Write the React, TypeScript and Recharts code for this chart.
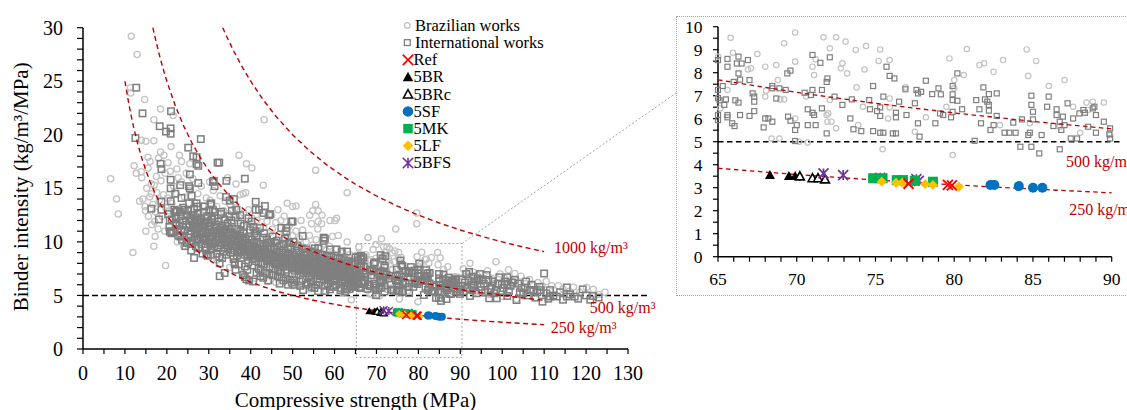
import React from 'react';
import { ScatterChart, Scatter, XAxis, YAxis, ReferenceLine, ReferenceArea, ReferenceDot, Legend } from 'recharts';

type Pt = [number, number];

const SERIF = '"Liberation Serif", "Times New Roman", Times, serif';

// ---------------- data ----------------
const brazilianWorks: Pt[] = [
  [6.6,15.9],[8.0,14.0],[8.4,12.6],[11.5,29.2],[12.9,27.5],[11.3,24.4],[11.4,23.9],[14.7,23.3],[18.5,22.4],[21.5,21.8],[16.9,21.4],[15.0,19.4],[16.9,19.45],[13.9,19.5],[18.5,18.4],[19.3,18.1],[20.3,17.4],[23.5,17.5],[12.2,17.1],[12.7,16.4],[13.9,16.55],[15.5,16.9],[15.5,17.9],[17.5,16.1],[16.3,15.4],[16.3,14.5],[22.4,16.8],[11.9,9.0],[19.7,7.8],[16.9,9.6],[14.9,12.9],[17.1,11.9],
  [13.5,13.8],[14.0,16.0],[14.3,14.0],[14.8,13.3],[15.0,11.0],[15.2,15.0],[15.6,12.4],[15.9,14.2],[16.0,17.5],[16.4,11.6],[16.7,13.5],[17.0,15.3],[17.2,10.5],[17.3,12.8],[17.6,14.6],[17.9,11.2],[18.0,17.8],[18.2,13.9],[18.6,15.7],[18.9,12.4],[19.2,14.4],[19.5,11.0],[19.6,16.4],[19.8,13.2],
  [20.2,14.1],[20.5,12.9],[20.8,16.6],[21.2,13.6],[21.6,15.2],[22.0,12.3],[22.3,14.5],[22.7,16.0],[23.1,13.1],[23.5,15.6],[23.8,11.9],[24.2,14.2],[24.6,16.4],[25.0,13.0],[25.4,14.8],[25.8,12.1],[26.2,15.9],[26.6,13.7],[27.0,11.8],[27.4,14.5],[27.8,12.7],[28.2,15.2],[28.6,13.4],[29.0,11.6],[29.4,14.1],[29.8,12.5],[22.5,10.0],[24.0,9.6],[26.0,10.3],[28.0,9.7],[21.0,18.9],[23.0,18.1],[25.5,17.3],
  [30.3,13.9],[30.7,12.2],[31.1,14.8],[31.5,11.4],[31.9,13.3],[32.3,12.0],[32.7,14.3],[33.1,11.1],[33.5,12.9],[33.9,13.8],[34.3,11.8],[34.7,12.6],[35.1,13.5],[35.5,11.0],[35.9,12.3],[36.3,13.2],[36.7,10.7],[37.1,12.0],[37.5,14.4],[37.9,11.5],[38.3,12.7],[38.7,10.4],[39.1,11.9],[39.5,13.0],[39.9,10.9],[40.3,12.2],[40.7,11.3],[41.1,10.1],[41.5,12.0],[41.9,11.0],[42.3,9.9],[42.7,12.4],[43.1,11.4],[43.5,10.4],[43.9,11.9],[44.3,9.6],[44.7,10.9],[32.0,8.3],[35.0,7.6],[38.0,7.0],[41.0,6.6],[44.0,6.3],[36.5,15.4],[38.8,14.6],[34.5,16.0],
  [45.2,11.2],[45.6,10.0],[46.0,11.8],[46.4,9.5],[46.8,10.7],[47.2,12.0],[47.6,9.9],[48.0,10.9],[48.4,9.2],[48.8,10.4],[49.2,11.5],[49.6,9.6],[50.0,10.6],[50.4,8.9],[50.8,11.0],[51.2,9.8],[51.6,10.3],[52.0,8.7],[52.4,11.1],[52.8,9.4],[53.2,10.0],[53.6,8.6],[54.0,10.6],[54.4,9.1],[54.8,9.7],[55.2,8.4],[55.6,10.2],[56.0,8.9],[56.4,9.5],[56.8,8.2],[57.2,9.8],[57.6,8.6],[58.0,9.2],[58.4,8.0],[58.8,9.6],[59.2,8.4],[59.6,8.9],[60.0,7.9],[60.4,9.3],[60.8,8.2],[61.2,8.7],[61.6,7.7],[62.0,9.0],[62.4,8.0],[62.8,8.5],[63.2,7.6],[63.6,8.8],[64.0,7.9],[64.4,8.3],[46.0,6.2],[50.0,5.9],[54.0,5.6],[58.0,5.4],[62.0,5.2],[48.0,12.4],[52.0,12.0],[56.0,11.2],[59.5,10.5],[63.0,10.0],[60.5,12.2],[57.0,12.5],[54.8,12.9],
  [30.2,15.6],[37.2,18.1],[39.0,17.3],[40.3,16.9],[43.2,21.4],[43.0,15.3],[38.2,14.5],[46.5,13.0],[45.0,12.5],[48.7,13.6],[50.0,13.3],[50.8,13.35],[54.1,12.5],[54.5,11.7],[55.5,16.7],[55.5,13.5],[56.1,12.9],[56.1,11.9],[56.9,11.7],[58.9,12.0],[60.1,12.0],[60.9,10.6],[63.0,14.6],[64.0,4.6],[68.0,10.4],[71.2,10.3],[74.6,11.2],[79.6,12.7],[79.6,11.7],
  [65.8,9.52],[65.95,8.87],[65.0,8.7],[67.5,8.81],[68.0,8.26],[68.7,8.33],[69.2,9.28],[69.9,9.75],[69.9,8.48],[71.7,9.54],[72.5,9.54],[73.1,9.35],[72.1,9.06],[72.9,8.41],[72.8,8.19],[73.2,7.97],[73.75,8.99],[74.4,9.16],[74.3,8.14],[75.3,9.01],[75.2,8.51],[75.9,8.55],[73.8,7.36],[71.1,7.9],[71.0,8.26],[71.2,8.58],[66.9,8.14],[67.1,8.19],[65.15,6.45],[65.6,7.25],[68.0,6.96],[68.05,7.22],[68.8,7.68],[68.95,6.84],[69.2,6.84],[68.4,5.14],[68.9,5.14],[69.9,6.01],[70.15,5.0],[70.7,4.96],[70.6,6.96],[71.9,6.16],[71.95,5.87],[72.2,5.87],[72.5,5.58],[72.1,6.81],[72.0,6.23],[73.9,5.72],[74.2,6.52],[75.45,4.67],[75.8,6.01],[75.9,6.49],[75.9,6.88],[76.9,7.36],[77.5,5.43],[78.2,6.06],[79.7,8.62],[80.0,7.68],[80.0,7.32],[79.5,6.52],[80.6,7.9],[80.8,9.03],[79.9,4.42],[81.6,8.33],[81.9,8.41],[82.5,8.04],[83.1,8.55],[82.9,5.72],[84.6,9.01],[84.7,7.86],[85.2,8.51],[84.8,5.8],[86.0,7.42],[87.0,7.68],[87.55,6.52],[88.4,6.7],[88.8,6.74],[89.5,6.7],[88.0,5.39],[86.7,5.65],[88.5,6.38],[89.9,5.29],
  [90.7,7.5],[91.5,6.8],[92.3,8.0],[93.0,7.2],[94.0,6.9],[95.9,5.9],[96.5,7.3],[97.5,6.6],[98.5,8.15],[99.5,7.0],[100.5,6.6],[101.5,7.4],[102.5,6.3],[103.0,7.05],[103.4,4.64],[104.5,6.8],[105.5,6.1],[106.5,6.5],[107.5,5.9],[108.5,6.2],[109.5,5.9],[110.5,6.3],[111.8,5.9],[113.4,5.9],[114.5,5.6],[116.0,5.4],[117.0,5.8],[118.5,5.3],[120.1,5.75],[121.7,5.57],[123.0,5.1],[124.5,5.3],[93.5,5.3],[97.0,5.1],[100.0,4.9],[105.0,5.2],
];

const internationalWorks: Pt[] = [
  [12.7,24.4],[14.2,22.0],[21.0,22.2],[18.3,20.8],[20.9,20.6],[19.8,20.3],[20.9,20.1],[12.5,19.7],[28.1,19.6],[25.1,18.8],[26.3,18.0],[27.1,17.9],[27.5,17.1],[18.5,17.3],[18.7,16.8],[32.1,17.4],[32.5,17.4],[38.6,15.9],[34.2,15.7],[31.2,15.7],[20.9,15.8],[20.9,15.0],[27.5,15.5],[23.2,15.3],[25.3,15.2],[25.5,16.3],[16.3,13.1],[18.1,12.1],[18.7,13.75],[18.7,13.0],[25.5,15.0],[27.1,17.25],
  [20.7,12.0],[22.3,11.7],[23.2,10.5],[20.7,10.95],[24.7,9.9],[26.5,8.5],[22.1,12.8],[24.3,13.0],[25.9,14.3],[27.1,13.6],[29.0,13.3],[31.0,15.6],[31.4,15.2],[34.1,14.2],[35.0,13.85],[36.0,14.0],[36.6,13.0],[30.6,13.6],[32.6,8.0],[32.6,6.8],[33.8,7.1],[36.4,7.4],[38.6,6.7],[39.6,6.4],[40.6,6.3],[36.2,7.9],[29.4,9.2],[30.5,8.8],[29.1,10.3],[21.1,10.8],[29.8,8.7],[30.4,9.6],[41.4,7.1],[39.0,6.5],[43.0,6.65],[45.3,6.9],[46.9,6.1],[48.9,6.0],[50.5,6.0],[54.5,5.8],[56.1,5.4],[57.7,5.4],[58.9,5.57],[62.9,5.57],[62.5,5.35],[64.8,5.8],[52.5,5.5],
  [41.2,13.75],[42.0,13.0],[43.1,12.7],[44.4,12.5],[47.3,11.3],[49.7,11.9],[52.4,10.55],[57.4,10.4],[57.4,10.1],[56.1,9.4],[58.9,9.3],[60.5,9.3],[63.0,9.1],[43.4,13.35],[44.6,12.6],[41.2,13.0],[50.0,11.9],[55.3,9.4],[57.7,10.3],[61.7,9.1],[48.5,11.3],[48.5,11.0],[31.0,13.0],[33.0,12.8],[35.5,12.9],[37.5,12.5],[39.5,12.2],[40.2,11.9],[38.2,6.9],[42.3,6.8],[44.2,6.4],[47.8,6.4],[49.8,6.2],[51.8,5.9],[53.3,6.0],[55.2,5.7],[59.8,5.9],[61.4,5.5],[63.8,5.9],
  [20.3,12.6],[20.6,11.4],[20.9,13.8],[21.2,12.1],[21.5,10.9],[21.8,13.0],[22.1,11.8],[22.4,12.9],[22.7,10.6],[23.0,11.5],[23.3,12.4],[23.6,10.2],[23.9,13.2],[24.2,11.1],[24.5,12.0],[24.8,10.0],[24.4,9.6],[23.5,14.1],[22.0,14.5],[21.0,11.0],
  [25.1,12.9],[25.4,11.6],[25.2,10.4],[25.7,9.8],[25.6,12.2],[25.9,11.0],[25.3,13.6],[25.8,9.2],
  [26.2,12.5],[26.4,11.3],[26.1,10.1],[26.7,10.8],[26.6,12.0],[26.9,9.6],[26.5,13.1],[26.8,11.7],
  [27.1,11.2],[27.4,12.6],[27.3,10.3],[27.6,9.4],[27.8,11.8],[27.9,10.7],[27.2,13.3],
  [28.1,12.1],[28.4,10.9],[28.3,9.8],[28.6,11.5],[28.8,12.8],[28.9,10.2],[28.5,8.9],[28.7,11.0],
  [29.1,11.7],[29.4,10.5],[29.2,9.5],[29.6,12.4],[29.8,10.9],[29.9,11.4],[29.5,8.8],
  [30.1,12.9],[30.3,11.2],[30.2,10.0],[30.5,9.3],[30.7,11.8],[30.9,10.6],[30.6,12.4],[30.4,13.5],[30.8,9.8],
  [31.1,11.0],[31.4,12.2],[31.3,9.6],[31.6,10.5],[31.8,11.6],[31.9,8.9],[31.5,12.8],[31.7,10.1],
  [32.1,10.8],[32.4,11.9],[32.2,9.4],[32.6,10.2],[32.8,11.3],[32.9,12.6],[32.5,8.6],[32.7,9.9],
  [33.1,10.4],[33.3,11.5],[33.5,9.1],[33.7,12.1],[33.9,10.0],[33.6,10.8],[33.2,8.5],[33.8,11.1],
  [34.1,9.7],[34.3,10.9],[34.5,11.7],[34.2,8.8],[34.7,10.3],[34.9,12.4],[34.6,9.3],[34.8,11.2],
  [35.1,10.1],[35.3,9.0],[35.5,11.4],[35.7,10.6],[35.9,8.4],[35.4,12.0],[35.8,9.6],[35.2,10.9],
  [36.1,9.4],[36.3,10.7],[36.5,11.2],[36.7,8.7],[36.9,10.0],[36.4,12.3],[36.8,9.1],[36.2,8.1],
  [37.1,10.3],[37.3,9.2],[37.5,11.0],[37.7,8.5],[37.9,9.8],[37.4,10.6],[37.6,11.7],[37.2,7.9],
  [38.1,9.5],[38.3,10.8],[38.5,8.8],[38.7,10.1],[38.9,9.1],[38.4,11.5],[38.6,7.7],[38.2,10.4],
  [39.1,9.9],[39.3,8.6],[39.5,10.5],[39.7,9.3],[39.9,11.1],[39.4,8.1],[39.6,9.7],[39.2,7.4],
  [40.1,9.0],[40.3,10.2],[40.5,8.4],[40.7,9.6],[40.9,10.8],[40.4,7.8],[40.6,11.4],[40.2,8.8],
  [41.1,9.4],[41.3,8.2],[41.5,10.0],[41.7,8.9],[41.9,7.5],[41.4,10.6],[41.6,9.2],[41.2,11.0],
  [42.1,8.6],[42.3,9.8],[42.5,8.0],[42.7,9.3],[42.9,10.4],[42.4,7.3],[42.6,8.9],[42.2,11.3],
  [43.1,9.1],[43.3,7.9],[43.5,9.7],[43.7,8.5],[43.9,10.2],[43.4,7.1],[43.6,8.8],[43.2,10.8],
  [44.1,8.3],[44.3,9.4],[44.5,7.7],[44.7,8.9],[44.9,10.0],[44.4,7.0],[44.6,8.6],[44.2,9.9],
  [45.1,8.8],[45.3,7.5],[45.5,9.3],[45.7,8.2],[45.9,9.9],[45.4,6.9],[45.6,8.5],[45.2,10.5],
  [46.1,8.0],[46.3,9.1],[46.5,7.3],[46.7,8.6],[46.9,9.6],[46.4,6.8],[46.6,8.3],[46.2,10.1],
  [47.1,8.5],[47.3,7.6],[47.5,9.2],[47.7,8.0],[47.9,9.8],[47.4,6.7],[47.6,8.8],[47.2,7.2],
  [48.1,8.2],[48.3,9.0],[48.5,7.4],[48.7,8.5],[48.9,9.5],[48.4,6.6],[48.6,7.9],[48.2,10.3],
  [49.1,8.7],[49.3,7.7],[49.5,9.3],[49.7,8.1],[49.9,7.0],[49.4,6.5],[49.6,8.4],[49.2,9.9],
  [50.1,7.9],[50.3,8.8],[50.5,7.3],[50.7,8.3],[50.9,9.2],[50.4,6.4],[50.6,7.6],[50.2,10.0],
  [51.1,8.4],[51.3,7.5],[51.5,9.0],[51.7,7.9],[51.9,6.9],[51.4,8.6],[51.6,6.3],[51.2,9.6],
  [52.1,7.7],[52.3,8.5],[52.5,7.1],[52.7,8.1],[52.9,9.0],[52.4,6.5],[52.6,7.4],[52.2,9.4],
  [53.1,8.2],[53.3,7.3],[53.5,8.8],[53.7,7.7],[53.9,6.7],[53.4,8.4],[53.6,6.2],[53.2,9.3],
  [54.1,7.5],[54.3,8.3],[54.5,6.9],[54.7,7.9],[54.9,8.7],[54.4,6.3],[54.6,7.2],[54.2,9.1],
  [55.1,8.0],[55.3,7.1],[55.5,8.6],[55.7,7.5],[55.9,6.5],[55.4,8.2],[55.6,6.0],[55.2,9.0],
  [56.1,7.3],[56.3,8.1],[56.5,6.8],[56.7,7.7],[56.9,8.5],[56.4,6.2],[56.6,7.0],[56.2,8.9],
  [57.1,7.8],[57.3,6.9],[57.5,8.3],[57.7,7.3],[57.9,6.4],[57.4,8.0],[57.6,5.9],[57.2,8.8],
  [58.1,7.1],[58.3,7.9],[58.5,6.6],[58.7,7.5],[58.9,8.3],[58.4,6.1],[58.6,6.9],[58.2,8.7],
  [59.1,7.6],[59.3,6.8],[59.5,8.1],[59.7,7.1],[59.9,6.3],[59.4,7.8],[59.6,5.8],[59.2,8.6],
  [60.1,7.0],[60.3,7.7],[60.5,6.5],[60.7,7.3],[60.9,8.1],[60.4,6.0],[60.6,6.8],[60.2,8.5],
  [61.1,7.4],[61.3,6.7],[61.5,7.9],[61.7,7.0],[61.9,6.2],[61.4,7.6],[61.6,5.7],[61.2,8.4],
  [62.1,6.9],[62.3,7.6],[62.5,6.4],[62.7,7.2],[62.9,8.0],[62.4,5.9],[62.6,6.7],[62.2,8.3],
  [63.1,7.3],[63.3,6.6],[63.5,7.8],[63.7,6.9],[63.9,6.1],[63.4,7.5],[63.6,5.6],[63.2,8.2],
  [64.1,6.8],[64.3,7.5],[64.5,6.3],[64.7,7.1],[64.9,7.9],[64.4,5.8],[64.6,6.6],[64.2,8.1],
  [22.2,12.2],[22.6,11.2],[23.1,12.8],[23.4,11.0],[23.8,12.0],[24.1,10.6],[24.6,11.6],[24.9,12.5],
  [25.2,11.4],[25.6,10.7],[25.9,12.0],[26.3,11.5],[26.6,10.5],[26.9,12.3],[27.3,11.1],[27.6,10.2],[27.9,12.1],[28.2,11.4],[28.5,10.4],[28.8,11.9],[29.2,11.0],[29.5,10.1],[29.8,11.8],
  [30.2,11.5],[30.5,10.4],[30.8,12.1],[31.2,10.8],[31.5,9.9],[31.8,11.4],[32.2,10.5],[32.5,11.1],[32.8,9.7],[33.2,10.9],[33.5,10.2],[33.8,9.5],[34.2,10.6],[34.5,9.9],[34.8,10.9],[35.2,9.8],[35.5,10.3],[35.8,9.2],[36.2,10.2],[36.5,9.6],[36.8,10.5],[37.2,9.5],[37.5,10.0],[37.8,9.0],[38.2,9.9],[38.5,9.3],[38.8,10.3],[39.2,9.2],[39.5,9.6],[39.8,8.8],
  [40.2,9.6],[40.5,9.1],[40.8,9.9],[41.2,8.7],[41.5,9.4],[41.8,8.5],[42.2,9.2],[42.5,8.7],[42.8,9.6],[43.2,8.6],[43.5,9.1],[43.8,8.2],[44.2,8.9],[44.5,8.4],[44.8,9.3],[45.2,8.3],[45.5,8.8],[45.8,7.9],[46.2,8.6],[46.5,8.1],[46.8,9.0],[47.2,8.1],[47.5,8.5],[47.8,7.7],[48.2,8.4],[48.5,7.9],[48.8,8.8],[49.2,7.9],[49.5,8.3],[49.8,7.5],
  [50.2,8.2],[50.5,7.7],[50.8,8.6],[51.2,7.7],[51.5,8.1],[51.8,7.3],[52.2,8.0],[52.5,7.6],[52.8,8.4],[53.2,7.5],[53.5,7.9],[53.8,7.1],[54.2,7.8],[54.5,7.4],[54.8,8.2],[55.2,7.3],[55.5,7.7],[55.8,6.9],[56.2,7.6],[56.5,7.2],[56.8,8.0],[57.2,7.1],[57.5,7.5],[57.8,6.8],[58.2,7.4],[58.5,7.0],[58.8,7.8],[59.2,7.0],[59.5,7.3],[59.8,6.6],[60.2,7.2],[60.5,6.9],[60.8,7.6],[61.2,6.8],[61.5,7.2],[61.8,6.5],[62.2,7.1],[62.5,6.7],[62.8,7.4],[63.2,6.7],[63.5,7.0],[63.8,6.4],[64.2,6.9],[64.5,6.6],[64.8,7.3],
  [65.0,8.55],[65.6,8.6],[65.6,8.26],[66.3,8.7],[66.2,8.4],[66.5,8.4],[66.9,8.55],[66.3,7.97],[66.0,7.6],[66.4,7.7],[67.0,7.68],[65.3,7.42],[65.0,7.25],[65.0,6.9],[65.1,6.8],[65.5,6.84],[65.4,6.6],[66.1,6.8],[66.3,6.7],[65.0,6.16],[65.0,5.94],[65.6,6.16],[65.6,6.06],[65.9,5.8],[66.05,5.68],[66.4,6.16],[67.0,6.12],[67.2,7.1],[67.3,6.96],[67.3,6.74],[67.3,6.33],[67.9,5.62],[68.0,6.01],[68.2,6.01],[68.45,5.87],[68.45,7.42],[68.45,7.32],[68.7,6.88],[68.9,7.32],[69.3,7.25],[69.4,7.97],[69.6,8.09],[69.45,6.09],[69.6,5.91],[69.9,5.51],[69.9,5.03],[70.0,5.72],
  [70.5,7.13],[70.7,5.72],[70.7,6.41],[70.9,7.03],[71.0,7.25],[71.0,6.26],[71.0,8.77],[71.1,6.16],[71.2,5.72],[71.5,8.43],[71.6,7.25],[71.6,6.45],[71.9,7.6],[71.95,7.75],[71.9,5.36],[72.1,8.67],[72.4,6.96],[72.9,6.6],[73.4,6.01],[73.5,6.84],[73.6,5.54],[74.1,5.46],[74.6,6.81],[74.65,6.41],[74.85,7.42],[74.85,5.46],[75.1,6.33],[75.3,5.39],[75.3,6.12],[75.3,6.49],[75.5,6.96],[75.5,5.39],[75.7,8.26],[75.9,7.86],[76.2,7.75],[76.1,5.36],[76.3,5.36],[76.3,6.26],[76.3,6.06],[76.5,6.74],[76.9,7.28],[76.97,6.16],[77.5,6.67],[77.6,7.25],[77.7,7.1],[77.7,5.8],[77.8,5.22],[77.9,7.17],[78.2,7.65],[78.6,7.07],[78.8,5.8],[79.0,7.32],[79.1,6.23],[79.15,7.06],[79.3,6.16],[79.8,6.06],[79.9,7.42],[79.9,7.06],[79.9,6.81],[79.9,6.3],
  [80.2,7.97],[80.2,6.78],[80.5,6.41],[81.3,5.04],[81.4,6.81],[81.6,6.41],[81.7,5.8],[81.85,7.36],[81.95,6.84],[82.1,6.74],[82.2,6.6],[82.2,7.07],[82.2,6.35],[82.3,5.51],[82.5,5.72],[82.7,7.1],[82.7,6.12],[83.2,5.39],[83.5,5.39],[83.75,5.83],[83.9,5.39],[84.2,4.78],[84.3,5.97],[84.7,5.29],[84.8,5.39],[84.9,7.0],[84.9,6.6],[84.9,4.78],[85.0,6.3],[85.0,5.97],[85.4,4.49],[85.55,5.29],[85.9,6.52],[86.0,6.96],[86.3,5.68],[86.5,6.41],[86.5,6.16],[86.7,5.87],[86.7,4.67],[86.8,5.51],[86.9,6.09],[87.0,5.72],[87.2,6.67],[87.55,6.01],[87.4,5.14],[87.8,5.14],[87.95,6.23],[88.2,6.38],[88.3,6.26],[88.5,5.65],[88.8,6.45],[88.9,6.52],[89.0,6.16],[89.0,5.39],[89.5,5.87],[89.9,5.58],[89.85,5.32],[89.9,5.14],
  [90.2,5.9],[90.5,6.5],[90.8,5.4],[91.1,6.2],[91.4,7.0],[91.7,5.7],[92.0,6.4],[92.1,7.2],[92.3,4.95],[92.6,6.0],[92.9,5.5],[93.1,5.9],[93.1,6.75],[93.4,6.3],[93.8,5.2],[94.1,6.6],[94.5,6.45],[94.7,7.0],[94.9,5.8],[95.1,5.5],[95.3,6.5],[95.6,6.1],[95.9,5.3],[96.3,6.9],[96.7,6.45],[96.9,4.73],[97.2,5.6],[97.5,5.9],[97.8,6.3],[98.1,5.2],[98.5,5.5],[98.7,4.73],[99.0,6.1],[99.3,6.7],[99.6,5.4],[99.9,6.0],[100.3,5.7],[100.7,6.3],[101.2,6.7],[101.2,4.95],[101.2,6.0],[101.6,5.4],[102.0,5.9],[102.5,6.2],[103.0,6.45],[103.4,4.57],[103.8,6.1],[104.2,5.3],[104.6,5.7],[105.0,5.2],[105.4,5.75],[105.7,6.3],[106.1,5.0],[106.6,5.5],[107.0,6.0],[107.4,5.5],[107.9,4.8],[108.4,5.3],[108.9,5.8],[109.2,5.5],[109.6,4.42],[110.0,7.05],[110.5,5.2],[111.0,4.7],[111.4,4.9],[111.4,5.5],[112.2,5.0],[113.0,4.9],[113.8,5.3],[114.5,4.6],[115.4,4.9],[115.4,5.75],[116.2,5.1],[117.3,4.9],[118.1,4.7],[119.2,5.57],[120.0,5.0],[121.0,4.6],[121.7,4.95],[123.0,4.8],
];

const refMix: Pt[] = [[77.1,3.17],[79.6,3.12],[79.85,3.1]];
const mix5BR: Pt[] = [[68.3,3.55],[69.5,3.51],[69.9,3.51]];
const mix5BRc: Pt[] = [[70.2,3.5],[71.0,3.42],[71.35,3.42],[71.8,3.37]];
const mix5SF: Pt[] = [[82.3,3.12],[82.55,3.12],[84.1,3.07],[85.0,3.0],[85.6,3.0]];
const mix5MK: Pt[] = [[74.85,3.41],[75.45,3.41],[76.35,3.33],[76.75,3.33],[77.5,3.3],[78.65,3.26]];
const mix5LF: Pt[] = [[75.4,3.26],[76.3,3.22],[76.7,3.22],[78.15,3.16],[78.65,3.12],[80.3,3.04]];
const mix5BFS: Pt[] = [[71.7,3.62],[72.95,3.55],[75.3,3.43],[77.6,3.37],[77.75,3.3]];

// iso-binder-consumption curves: intensity = binder / strength
const binderLevels = [250, 500, 1000];
const curveLabels = ['250 kg/m³', '500 kg/m³', '1000 kg/m³'];
const curveX = [10,11,12,13,14,15,16,17,18,19,20,22,24,26,28,30,32,34,36,38,40,43,46,50,54,58,62,65,70,75,80,85,90,95,100,105,110];

const mainXTicks = [0,5,10,15,20,25,30,35,40,45,50,55,60,65,70,75,80,85,90,95,100,105,110,115,120,125,130];
const mainYTicks = [0,1,2,3,4,5,6,7,8,9,10,11,12,13,14,15,16,17,18,19,20,21,22,23,24,25,26,27,28,29,30];
const insetXTicks = [65,66,67,68,69,70,71,72,73,74,75,76,77,78,79,80,81,82,83,84,85,86,87,88,89,90];
const insetYTicks = [0,0.5,1,1.5,2,2.5,3,3.5,4,4.5,5,5.5,6,6.5,7,7.5,8,8.5,9,9.5,10];

// ---------------- helpers ----------------
const toXY = (pts: Pt[]) => pts.map(([x, y]) => ({ x, y }));
const inInset = ([x, y]: Pt) => x >= 65 && x <= 90 && y >= 0 && y <= 10;

const curves = binderLevels.map((k) => {
  const start = Math.max(10, k / 30);
  const xs = [start, ...curveX.filter((x) => x > start)];
  return xs.map((x) => ({ x, y: Math.min(30, k / x) }));
});

type Kind = 'circleOpen' | 'squareOpen' | 'x' | 'triFilled' | 'triOpen' | 'circleFilled' | 'squareFilled' | 'diamond' | 'asterisk';

function drawMarker(kind: Kind, cx: number, cy: number, s: number, color: string, sw = 1) {
  const h = s / 2;
  switch (kind) {
    case 'circleOpen':
      return <circle cx={cx} cy={cy} r={h} fill="none" stroke={color} strokeWidth={sw} />;
    case 'squareOpen':
      return <rect x={cx - h} y={cy - h} width={s} height={s} fill="none" stroke={color} strokeWidth={sw} />;
    case 'x':
      return <path d={`M${cx - h},${cy - h}L${cx + h},${cy + h}M${cx - h},${cy + h}L${cx + h},${cy - h}`} stroke={color} strokeWidth={sw} fill="none" />;
    case 'triFilled':
      return <path d={`M${cx},${cy - h}L${cx + h},${cy + h * 0.8}L${cx - h},${cy + h * 0.8}Z`} fill={color} />;
    case 'triOpen':
      return <path d={`M${cx},${cy - h + 0.6}L${cx + h - 0.6},${cy + h * 0.8 - 0.3}L${cx - h + 0.6},${cy + h * 0.8 - 0.3}Z`} fill="#fff" stroke={color} strokeWidth={sw} />;
    case 'circleFilled':
      return <circle cx={cx} cy={cy} r={h} fill={color} />;
    case 'squareFilled':
      return <rect x={cx - h} y={cy - h} width={s} height={s} fill={color} />;
    case 'diamond':
      return <path d={`M${cx},${cy - h}L${cx + h},${cy}L${cx},${cy + h}L${cx - h},${cy}Z`} fill={color} />;
    case 'asterisk':
      return <path d={`M${cx - h},${cy - h}L${cx + h},${cy + h}M${cx - h},${cy + h}L${cx + h},${cy - h}M${cx},${cy - h}L${cx},${cy + h}`} stroke={color} strokeWidth={sw} fill="none" />;
  }
  return <g />;
}

const shape = (kind: Kind, s: number, color: string, sw = 1) => (p: any) => drawMarker(kind, p.cx, p.cy, s, color, sw);
const noShape = () => <g />;

const mixSeries = [
  { name: 'Ref', data: refMix, kind: 'x' as Kind, color: '#ff0000', sw: 1.6 },
  { name: '5BR', data: mix5BR, kind: 'triFilled' as Kind, color: '#000000', sw: 1 },
  { name: '5BRc', data: mix5BRc, kind: 'triOpen' as Kind, color: '#000000', sw: 1.3 },
  { name: '5SF', data: mix5SF, kind: 'circleFilled' as Kind, color: '#0070c0', sw: 1 },
  { name: '5MK', data: mix5MK, kind: 'squareFilled' as Kind, color: '#00b050', sw: 1 },
  { name: '5LF', data: mix5LF, kind: 'diamond' as Kind, color: '#ffc000', sw: 1 },
  { name: '5BFS', data: mix5BFS, kind: 'asterisk' as Kind, color: '#7030a0', sw: 1.4 },
];
// order in which they are layered on the chart
const drawOrder = ['5BR', '5BRc', '5BFS', '5MK', '5LF', 'Ref', '5SF'];

const BRAZ_COLOR = '#c3c3c3';
const INTL_COLOR = '#7f7f7f';
const CURVE_COLOR = '#c00000';

// ---------------- ticks / labels ----------------
const makeXTick = (step: number, fs: number) => (props: any) => {
  const v = props.payload.value;
  if (Math.abs(v / step - Math.round(v / step)) > 1e-6) return <g />;
  return (
    <text x={props.x} y={props.y} dy="0.71em" textAnchor="middle" fontSize={fs} fontFamily={SERIF} fill="#000">{v}</text>
  );
};
const makeYTick = (step: number, fs: number) => (props: any) => {
  const v = props.payload.value;
  if (Math.abs(v / step - Math.round(v / step)) > 1e-6) return <g />;
  return (
    <text x={props.x} y={props.y} dy="0.355em" textAnchor="end" fontSize={fs} fontFamily={SERIF} fill="#000">{v}</text>
  );
};

const XTitle = (p: any) => {
  const vb = p.viewBox || { x: 83, width: 545 };
  return (
    <text x={vb.x + vb.width / 2} y={407} textAnchor="middle" fontSize={21} fontFamily={SERIF} fill="#000">Compressive strength (MPa)</text>
  );
};
const YTitle = (p: any) => {
  const vb = p.viewBox || { y: 28, height: 321 };
  const cy = vb.y + vb.height / 2 - 1.5;
  const x = 28.5;
  return (
    <text transform={`rotate(-90, ${x}, ${cy})`} x={x} y={cy} textAnchor="middle" fontSize={21} fontFamily={SERIF} fill="#000">Binder intensity (kg/m³/MPa)</text>
  );
};

const curveLabel = (text: string, fs: number) => (p: any) => {
  const vb = p.viewBox || {};
  const x = vb.x ?? p.x ?? 0;
  const y = vb.y ?? p.y ?? 0;
  return <text x={x} y={y} fontSize={fs} fontFamily={SERIF} fill={CURVE_COLOR}>{text}</text>;
};

const LegendBox = () => {
  const rows = [
    { label: 'Brazilian works', kind: 'circleOpen' as Kind, color: BRAZ_COLOR, s: 5.6, sw: 1.3, tx: 415, ix: 407.3 },
    { label: 'International works', kind: 'squareOpen' as Kind, color: INTL_COLOR, s: 5.8, sw: 1.3, tx: 415, ix: 407.3 },
    ...mixSeries.map((m) => ({
      label: m.name, kind: m.kind, color: m.color,
      s: m.kind === 'squareFilled' ? 9.5 : 10.5, sw: m.kind === 'x' ? 1.7 : m.sw + 0.2, tx: 413.5, ix: 408,
    })),
  ];
  return (
    <svg width={680} height={200} style={{ display: 'block' }}>
      {rows.map((r, i) => {
        const base = 30.7 + 17.2 * i;
        return (
          <g key={r.label}>
            {drawMarker(r.kind, r.ix, base - 5.3, r.s, r.color, r.sw)}
            <text x={r.tx} y={base} fontSize={16.5} fontFamily={SERIF} fill="#000">{r.label}</text>
          </g>
        );
      })}
    </svg>
  );
};

// ---------------- component ----------------
export default function App() {
  const brazAll = toXY(brazilianWorks);
  const intlAll = toXY(internationalWorks);
  const brazInset = toXY(brazilianWorks.filter(inInset));
  const intlInset = toXY(internationalWorks.filter(inInset));
  const insetCurves = curves
    .map((c) => c.filter((p) => p.x >= 65 && p.x <= 90))
    .filter((c) => c.every((p) => p.y <= 10));
  const orderedMix = drawOrder.map((n) => mixSeries.find((m) => m.name === n)!);

  const axisStyle = { stroke: '#000', strokeWidth: 1.5 };
  const tickStyle = { stroke: '#000', strokeWidth: 1.2 };

  return (
    <div style={{ position: 'absolute', left: 0, top: 0, width: 1127, height: 410, overflow: 'hidden', background: '#fff' }}>
      <div style={{ position: 'absolute', left: 0, top: 0 }}>
        <ScatterChart width={680} height={410} margin={{ top: 27.7, right: 52, bottom: 31, left: 23 }}>
          <XAxis type="number" dataKey="x" domain={[0, 130]} ticks={mainXTicks} interval={0} height={30}
            tick={makeXTick(10, 20)} tickSize={5} tickMargin={12} axisLine={axisStyle} tickLine={tickStyle} label={XTitle} />
          <YAxis type="number" dataKey="y" domain={[0, 30]} ticks={mainYTicks} interval={0} width={60}
            tick={makeYTick(5, 20)} tickSize={6} tickMargin={14} axisLine={axisStyle} tickLine={tickStyle} label={YTitle} />
          <Scatter data={brazAll} shape={shape('circleOpen', 6.2, BRAZ_COLOR, 1.3)} isAnimationActive={false} />
          <Scatter data={intlAll} shape={shape('squareOpen', 6.4, INTL_COLOR, 1.5)} isAnimationActive={false} />
          {curves.map((c, i) => (
            <Scatter key={`c${i}`} data={c} shape={noShape} line={{ stroke: CURVE_COLOR, strokeWidth: 1.4, strokeDasharray: '5 3.5' }} isAnimationActive={false} />
          ))}
          <ReferenceLine segment={[{ x: 0, y: 5 }, { x: 135.2, y: 5 }]} ifOverflow="visible" stroke="#000" strokeWidth={1.5} strokeDasharray="6 3" />
          {orderedMix.map((m) => (
            <Scatter key={m.name} data={toXY(m.data)} shape={shape(m.kind, 8, m.color, m.sw)} isAnimationActive={false} />
          ))}
          <ReferenceArea x1={65.2} x2={90.4} y1={-0.8} y2={9.85} ifOverflow="visible" fill="none" fillOpacity={0} stroke="#a6a6a6" strokeWidth={1} strokeDasharray="2 2" />
          <ReferenceLine segment={[{ x: 90.4, y: 9.85 }, { x: 141.45, y: 23.9 }]} ifOverflow="visible" stroke="#a6a6a6" strokeWidth={1} strokeDasharray="2 2" />
          <ReferenceDot x={112.35} y={8.94} r={0} fill="none" stroke="none" label={curveLabel(curveLabels[2], 16)} />
          <ReferenceDot x={120.9} y={3.39} r={0} fill="none" stroke="none" label={curveLabel(curveLabels[1], 16)} />
          <ReferenceDot x={111.6} y={1.47} r={0} fill="none" stroke="none" label={curveLabel(curveLabels[0], 16)} />
          <Legend layout="vertical" align="center" verticalAlign="middle"
            wrapperStyle={{ left: 0, top: 0, width: 680, height: 200, pointerEvents: 'none' }}
            content={() => <LegendBox />} />
        </ScatterChart>
      </div>

      <div style={{ position: 'absolute', left: 676, top: 16, width: 470, height: 278, border: '1px dotted #a6a6a6' }} />

      <div style={{ position: 'absolute', left: 660, top: 0 }}>
        <ScatterChart width={467} height={300} margin={{ top: 26.7, right: 15.3, bottom: 18.3, left: 13 }}>
          <XAxis type="number" dataKey="x" domain={[65, 90]} ticks={insetXTicks} interval={0} height={25}
            tick={makeXTick(5, 17.5)} tickSize={5} tickMargin={11} axisLine={axisStyle} tickLine={tickStyle} />
          <YAxis type="number" dataKey="y" domain={[0, 10]} ticks={insetYTicks} interval={0} width={45}
            tick={makeYTick(1, 17.5)} tickSize={5} tickMargin={10.5} axisLine={axisStyle} tickLine={tickStyle} />
          <Scatter data={brazInset} shape={shape('circleOpen', 5.4, BRAZ_COLOR, 1.2)} isAnimationActive={false} />
          <Scatter data={intlInset} shape={shape('squareOpen', 5, INTL_COLOR, 1.2)} isAnimationActive={false} />
          {insetCurves.map((c, i) => (
            <Scatter key={`ic${i}`} data={c} shape={noShape} line={{ stroke: CURVE_COLOR, strokeWidth: 1.3, strokeDasharray: '4.5 3.5' }} isAnimationActive={false} />
          ))}
          <ReferenceLine segment={[{ x: 65, y: 5 }, { x: 90.6, y: 5 }]} ifOverflow="visible" stroke="#000" strokeWidth={1.5} strokeDasharray="5.5 3.5" />
          {orderedMix.map((m) => (
            <Scatter key={`i${m.name}`} data={toXY(m.data)} shape={shape(m.kind, 10, m.color, m.sw + 0.3)} isAnimationActive={false} />
          ))}
          <ReferenceDot x={87.1} y={3.89} r={0} fill="none" stroke="none" label={curveLabel(curveLabels[1], 16)} />
          <ReferenceDot x={87.3} y={1.81} r={0} fill="none" stroke="none" label={curveLabel(curveLabels[0], 16)} />
        </ScatterChart>
      </div>
    </div>
  );
}
